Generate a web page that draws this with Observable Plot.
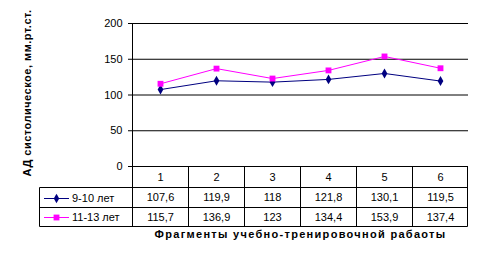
<!DOCTYPE html>
<html>
<head>
<meta charset="utf-8">
<script src="https://cdn.jsdelivr.net/npm/d3@7"></script>
<script src="https://cdn.jsdelivr.net/npm/@observablehq/plot@0.6"></script>
<style>
  html, body { margin: 0; padding: 0; background: #fff; }
  svg { display: block; }
</style>
</head>
<body>
<div id="chart"></div>
<script>
const categories = [1, 2, 3, 4, 5, 6];
const seriesNames = ["9-10 лет", "11-13 лет"];
const values1 = [107.6, 119.9, 118, 121.8, 130.1, 119.5];
const values2 = [115.7, 136.9, 123, 134.4, 153.9, 137.4];
const yTicks = [0, 50, 100, 150, 200];
const colors = ["#000080", "#ff00ff"];
const xTitle = "Фрагменты учебно-тренировочной рабаоты";
const yTitle = "АД систолическое, мм.рт.ст.";

const fmt = v => String(v).replace(".", ",");
const allValues = [values1, values2];
const data = allValues.flatMap((vals, s) =>
  vals.map((v, i) => ({cat: categories[i], value: v, series: seriesNames[s], row: s})));

const font = "Liberation Sans, Arial, sans-serif";
const rowDy = [10.5, 31, 50.5]; // table rows below the zero line

function tableMark(index, scales) {
  const {x, y} = scales;
  const g = d3.create("svg:g").attr("fill", "none").attr("stroke", "#000").attr("stroke-width", 1);
  const y0 = Math.round(y(0)) + 0.5;
  const left = 39.5;
  const xr = Math.round(x(categories[categories.length - 1] + 0.5)) - 0.5;
  const r1 = y0 + 21, r2 = y0 + 41, r3 = y0 + 60;
  for (const ry of [r1, r2, r3]) {
    g.append("line").attr("x1", left).attr("x2", xr).attr("y1", ry).attr("y2", ry);
  }
  for (let k = 0; k <= categories.length; k++) {
    const cx = k === categories.length ? xr : Math.round(x(categories[0] - 0.5 + k)) + 0.5;
    g.append("line").attr("x1", cx).attr("x2", cx).attr("y1", y0).attr("y2", r3);
  }
  g.append("line").attr("x1", left).attr("x2", left).attr("y1", r1).attr("y2", r3);
  const rowsY = [y0 + 31, y0 + 50.5];
  seriesNames.forEach((name, s) => {
    const ky = Math.round(rowsY[s]) + 0.5;
    g.append("line").attr("x1", 44).attr("x2", 69).attr("y1", ky).attr("y2", ky).attr("stroke", colors[s]);
    const sym = d3.symbol(s === 0 ? d3.symbolDiamond : d3.symbolSquare, s === 0 ? 26 : 34)();
    g.append("path").attr("d", sym).attr("transform", `translate(56.5,${ky})`)
      .attr("fill", colors[s]).attr("stroke", "none");
    g.append("text").attr("x", 72).attr("y", ky).attr("dy", "0.35em")
      .attr("text-anchor", "start")
      .attr("fill", "#000").attr("stroke", "none")
      .attr("font-family", font).attr("font-size", 11).text(name);
  });
  return g.node();
}

const plot = Plot.plot({
  width: 484,
  height: 263,
  marginLeft: 132,
  marginRight: 16,
  marginTop: 23,
  marginBottom: 97,
  style: {fontFamily: font, fontSize: "11px", background: "#fff", color: "#000"},
  x: {type: "linear", domain: [0.5, 6.5], axis: null},
  y: {domain: [0, 200], ticks: yTicks, tickSize: 4, tickPadding: 6, label: null},
  marks: [
    Plot.ruleY(yTicks, {stroke: "#000", strokeWidth: 1}),
    Plot.ruleX([0.5], {y1: 0, y2: 200, stroke: "#000"}),
    Plot.axisY({ticks: yTicks, tickSize: 4, tickPadding: 6, label: null, fontSize: 11}),
    tableMark,
    Plot.line(data, {x: "cat", y: "value", z: "series", stroke: d => colors[d.row], strokeWidth: 1}),
    Plot.dot(data.filter(d => d.row === 0), {x: "cat", y: "value", symbol: "diamond", r: 3, fill: colors[0], stroke: "none"}),
    Plot.dot(data.filter(d => d.row === 1), {x: "cat", y: "value", symbol: "square", r: 3.3, fill: colors[1], stroke: "none"}),
    Plot.text(categories, {x: d => d, y: () => 0, dy: rowDy[0], text: d => String(d), fill: "#000", fontSize: 11}),
    Plot.text(data.filter(d => d.row === 0), {x: "cat", y: () => 0, dy: rowDy[1], text: d => fmt(d.value), fill: "#000", fontSize: 11}),
    Plot.text(data.filter(d => d.row === 1), {x: "cat", y: () => 0, dy: rowDy[2], text: d => fmt(d.value), fill: "#000", fontSize: 11}),
    Plot.text([xTitle], {frameAnchor: "bottom", text: d => d, dy: 71, fontWeight: "bold", fontSize: 11, fill: "#000", className: "xtitle"}),
    Plot.text([yTitle], {frameAnchor: "left", textAnchor: "middle", text: d => d, dx: -105, dy: -2, rotate: -90, fontWeight: "bold", fontSize: 11, fill: "#000", className: "ytitle"})
  ]
});
d3.select(plot).selectAll(".xtitle text").attr("letter-spacing", "1.3px");
d3.select(plot).selectAll(".ytitle text").attr("letter-spacing", "0.5px");
document.getElementById("chart").append(plot);
</script>
</body>
</html>
